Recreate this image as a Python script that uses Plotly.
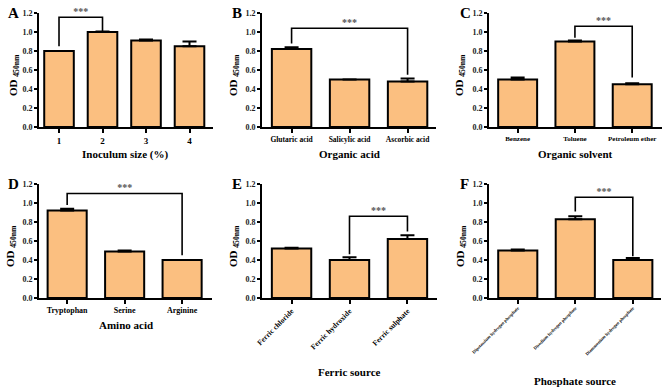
import plotly.graph_objects as go

W, H = 669, 388
FONT = "Liberation Serif"
BAR_COLOR = "#FBBF80"

# ---- data ----
a_cats = ["1", "2", "3", "4"]
a_vals = [0.80, 1.00, 0.91, 0.85]
a_errs = [0.00, 0.005, 0.01, 0.05]

b_cats = ["Glutaric acid", "Salicylic acid", "Ascorbic acid"]
b_vals = [0.82, 0.50, 0.48]
b_errs = [0.02, 0.00, 0.03]

c_cats = ["Benzene", "Toluene", "Petroleum ether"]
c_vals = [0.50, 0.90, 0.45]
c_errs = [0.02, 0.01, 0.01]

d_cats = ["Tryptophan", "Serine", "Arginine"]
d_vals = [0.92, 0.49, 0.40]
d_errs = [0.02, 0.01, 0.00]

e_cats = ["Ferric chloride", "Ferric hydroxide", "Ferric sulphate"]
e_vals = [0.52, 0.40, 0.62]
e_errs = [0.01, 0.03, 0.04]

f_cats = ["Dipotassium hydrogen phosphate", "Disodium hydrogen phosphate", "Diammonium hydrogen phosphate"]
f_vals = [0.50, 0.83, 0.40]
f_errs = [0.01, 0.03, 0.02]

# significance brackets: (left idx, right idx, bracket height, left leg bottom, right leg bottom)
a_sig = (0, 1, 1.155, 0.85, 1.00)
b_sig = (0, 2, 1.04, 0.88, 0.55)
c_sig = (1, 2, 1.06, 0.94, 0.52)
d_sig = (0, 2, 1.10, 0.98, 0.45)
e_sig = (1, 2, 0.86, 0.46, 0.70)
f_sig = (1, 2, 1.06, 0.91, 0.44)

x_titles = ["Inoculum size (%)", "Organic acid", "Organic solvent",
            "Amino acid", "Ferric source", "Phosphate source"]
letters = ["A", "B", "C", "D", "E", "F"]

panels = [
    (a_cats, a_vals, a_errs, a_sig),
    (b_cats, b_vals, b_errs, b_sig),
    (c_cats, c_vals, c_errs, c_sig),
    (d_cats, d_vals, d_errs, d_sig),
    (e_cats, e_vals, e_errs, e_sig),
    (f_cats, f_vals, f_errs, f_sig),
]

# ---- layout geometry (pixels) ----
x_dom_px = [(39, 213), (262, 436), (489, 662), (39, 212), (262, 437), (489, 661)]
row_px = [(127, 13), (298, 184)]  # (y of 0, y of 1.2)
xranges = [(-0.46, 3.54), (-0.51, 2.49), (-0.5, 2.52), (-0.49, 2.52), (-0.51, 2.51), (-0.5, 2.49)]
ytitle_x = [14, 234, 460, 11, 234, 461]
xtitle_y = [154, 154, 154, 325, 372, 381]
letter_x = [6, 230, 458, 6, 230, 458]
letter_y = [13, 13, 13, 184, 184, 184]
tick_sizes = [9, 7.5, 7, 8, 7.5, 4.5]
tick_angles = [0, 0, 0, 0, -45, -45]

fig = go.Figure()
annotations = []
layout = {}

for k, (cats, vals, errs, sig) in enumerate(panels):
    idx = "" if k == 0 else str(k + 1)
    xa, ya = "x" + idx, "y" + idx
    row = 0 if k < 3 else 1
    y0px, y1px = row_px[row]
    xs = list(range(len(cats)))
    fig.add_trace(go.Bar(
        x=xs, y=vals, xaxis=xa, yaxis=ya, width=0.68,
        marker=dict(color=BAR_COLOR, line=dict(color="black", width=2)),
        error_y=dict(type="data", array=errs, arrayminus=[0] * len(errs), symmetric=False,
                     color="black", thickness=2, width=7),
        showlegend=False, hoverinfo="skip"))
    i, j, h, lb, rb = sig
    fig.add_trace(go.Scatter(
        x=[xs[i], xs[i], xs[j], xs[j]], y=[lb, h, h, rb], xaxis=xa, yaxis=ya,
        mode="lines", line=dict(color="black", width=1.6), showlegend=False,
        hoverinfo="skip", cliponaxis=False))
    fig.add_trace(go.Scatter(
        x=[(xs[i] + xs[j]) / 2], y=[h], xaxis=xa, yaxis=ya, mode="text", text=["<b>***</b>"],
        textposition="top center", textfont=dict(family=FONT, size=10, color="#555"),
        showlegend=False, hoverinfo="skip", cliponaxis=False))

    xd = x_dom_px[k]
    layout["xaxis" + idx] = dict(
        domain=[xd[0] / W, xd[1] / W], anchor=ya, range=list(xranges[k]), automargin=False,
        tickmode="array", tickvals=xs, ticktext=["<b>%s</b>" % c for c in cats],
        tickangle=tick_angles[k],
        showline=True, linecolor="black", linewidth=1.6, ticks="outside", ticklen=4,
        tickwidth=1.5, tickcolor="black", showgrid=False, zeroline=False,
        tickfont=dict(family=FONT, size=tick_sizes[k], color="black"))
    layout["yaxis" + idx] = dict(
        domain=[(H - y0px) / H, (H - y1px) / H], anchor=xa, range=[0, 1.2], automargin=False,
        tickmode="array", tickvals=[0, 0.2, 0.4, 0.6, 0.8, 1.0, 1.2],
        ticktext=["<b>%s</b>" % t for t in ["0.0", "0.2", "0.4", "0.6", "0.8", "1.0", "1.2"]],
        showline=True, linecolor="black", linewidth=1.6, ticks="outside", ticklen=3,
        tickwidth=1.5, tickcolor="black", showgrid=False, zeroline=False,
        tickfont=dict(family=FONT, size=8, color="#222"))

    annotations.append(dict(
        x=ytitle_x[k] / W, y=(H - (y0px + y1px) / 2 - 5) / H, xref="paper", yref="paper",
        xanchor="center", yanchor="middle",
        text="<b>OD <sub>450nm</sub></b>", textangle=-90, showarrow=False,
        font=dict(family=FONT, size=11, color="black")))
    annotations.append(dict(
        x=(xd[0] + xd[1]) / 2 / W, y=(H - xtitle_y[k]) / H, xref="paper", yref="paper",
        xanchor="center", yanchor="middle",
        text="<b>%s</b>" % x_titles[k], showarrow=False,
        font=dict(family=FONT, size=11, color="black")))
    annotations.append(dict(
        x=letter_x[k] / W, y=(H - letter_y[k]) / H, xref="paper", yref="paper",
        xanchor="left", yanchor="middle",
        text="<b>%s</b>" % letters[k], showarrow=False,
        font=dict(family=FONT, size=15, color="black")))

fig.update_layout(
    width=W, height=H, margin=dict(l=0, r=0, t=0, b=0, autoexpand=False),
    paper_bgcolor="white", plot_bgcolor="white",
    annotations=annotations, **layout)

fig.write_html("out.html", config={"displayModeBar": False},
               post_script="document.body.style.margin='0';document.body.style.overflow='hidden';")
